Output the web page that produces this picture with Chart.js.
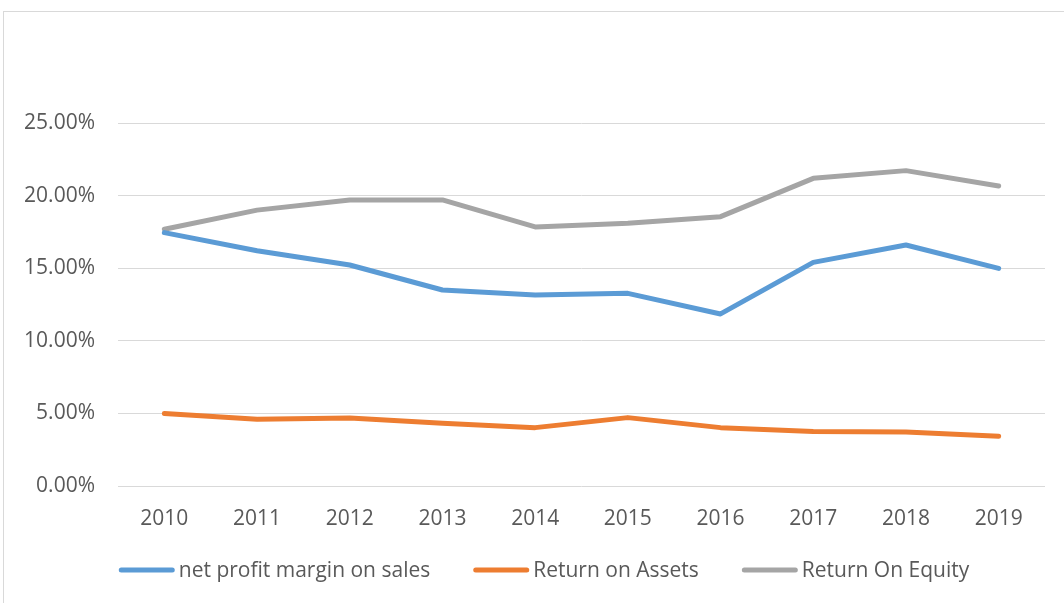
<!DOCTYPE html>
<html>
<head>
<meta charset="utf-8">
<script src="https://cdn.jsdelivr.net/npm/chart.js@4"></script>
<style>
  html, body { margin: 0; padding: 0; background: #fff; overflow: hidden; }
  #frame { position: absolute; left: 3px; top: 11px; width: 1100px; height: 700px; border: 1px solid #d9d9d9; box-sizing: border-box; }
  #wrap { position: absolute; left: 0; top: 0; width: 1064px; height: 603px; }
</style>
</head>
<body>
<div id="frame"></div>
<div id="wrap"><canvas id="c" width="1064" height="603"></canvas></div>
<script>
const categories = ["2010","2011","2012","2013","2014","2015","2016","2017","2018","2019"];
const netProfitMargin = [0.1745, 0.1620, 0.1522, 0.1350, 0.1315, 0.1327, 0.1185, 0.1540, 0.1660, 0.1499];
const returnOnAssets  = [0.0500, 0.0459, 0.0468, 0.0432, 0.0402, 0.0471, 0.0402, 0.0376, 0.0372, 0.0342];
const returnOnEquity  = [0.1768, 0.1900, 0.1970, 0.1970, 0.1784, 0.1809, 0.1855, 0.2119, 0.2172, 0.2066];
const seriesNames = ["net profit margin on sales", "Return on Assets", "Return On Equity"];
const seriesColors = ["#5B9BD5", "#ED7D31", "#A5A5A5"];

const textColor = "#595959";
const fontFamily = "'Open Sans', 'Noto Sans', sans-serif";
const fontSize = 21;

function ds(label, data, color) {
  return {
    label, data,
    borderColor: color, backgroundColor: color,
    borderWidth: 5, pointRadius: 0, pointHoverRadius: 0,
    tension: 0, fill: false,
    borderCapStyle: 'round', borderJoinStyle: 'round'
  };
}

// Excel-style legend: line swatch, small gap, text; centred row
const excelLegend = {
  id: 'excelLegend',
  afterDraw(chart) {
    const ctx = chart.ctx;
    ctx.save();
    ctx.font = fontSize + "px " + fontFamily;
    ctx.textBaseline = 'middle';
    const swatch = 56, gapText = 4, gapItem = 43, y = 570;
    const items = chart.data.datasets.map(d => ({ text: d.label, color: d.borderColor, w: ctx.measureText(d.label).width }));
    let total = 0;
    items.forEach((it, i) => { total += swatch + gapText + it.w + (i ? gapItem : 0); });
    let x = 544 - total / 2;
    items.forEach(it => {
      ctx.strokeStyle = it.color;
      ctx.lineWidth = 5;
      ctx.lineCap = 'round';
      ctx.beginPath();
      ctx.moveTo(x + 2.5, y);
      ctx.lineTo(x + swatch - 2.5, y);
      ctx.stroke();
      ctx.fillStyle = textColor;
      ctx.fillText(it.text, x + swatch + gapText, y + 1);
      x += swatch + gapText + it.w + gapItem;
    });
    ctx.restore();
  }
};

new Chart(document.getElementById('c'), {
  type: 'line',
  data: {
    labels: categories,
    datasets: [
      ds(seriesNames[0], netProfitMargin, seriesColors[0]),
      ds(seriesNames[1], returnOnAssets, seriesColors[1]),
      ds(seriesNames[2], returnOnEquity, seriesColors[2])
    ]
  },
  plugins: [excelLegend],
  options: {
    responsive: false,
    animation: false,
    devicePixelRatio: 1,
    layout: { padding: { top: 123, right: 19, left: 0, bottom: 74 } },
    plugins: {
      tooltip: { enabled: false },
      legend: { display: false }
    },
    scales: {
      x: {
        offset: true,
        grid: { display: false, drawTicks: false },
        border: { display: false },
        ticks: { color: textColor, font: { family: fontFamily, size: fontSize }, padding: 20, maxRotation: 0 },
        afterFit(scale) { scale.height = 43; }
      },
      y: {
        min: 0, max: 0.25,
        grid: { color: "#d9d9d9", lineWidth: 1, drawTicks: false },
        border: { display: false },
        ticks: {
          stepSize: 0.05,
          color: textColor,
          font: { family: fontFamily, size: fontSize },
          padding: 23,
          callback: v => (v * 100).toFixed(2) + '%'
        },
        afterFit(scale) { scale.width = 118; }
      }
    }
  }
});
</script>
</body>
</html>
